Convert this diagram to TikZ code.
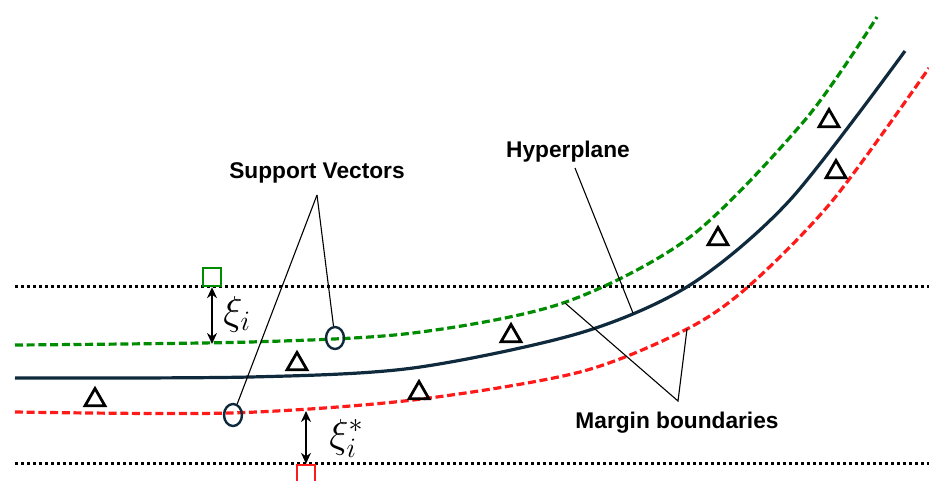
\documentclass[tikz,border=0pt]{standalone}
\usepackage{fontspec}
\setmainfont{Liberation Sans}
\usetikzlibrary{shapes.geometric, arrows.meta, positioning, calc}
\definecolor{svmNavy}{HTML}{0F2A3C}
\definecolor{svmGreen}{HTML}{008C00}
\definecolor{svmRed}{HTML}{FF1A1A}

\begin{document}
\begin{tikzpicture}[x=1pt, y=-1pt, >={Stealth[length=11pt, width=10pt]},
    lbl/.style={font=\fontsize{22.7}{27}\selectfont\bfseries, inner sep=0pt},
    bound/.style={line width=3.2pt, dash pattern=on 8pt off 3.7pt},
    level/.style={line width=3pt, dash pattern=on 3pt off 3pt},
    svdot/.style={ellipse, draw=svmNavy, line width=2.4pt, minimum width=18pt,
      minimum height=22pt, inner sep=0pt},
    tri/.style={regular polygon, regular polygon sides=3, draw, line width=2.8pt,
      minimum size=23pt, inner sep=0pt},
    slack/.style={rectangle, draw, line width=2.4pt, minimum size=18pt, inner sep=0pt},
    xilbl/.style={font=\huge, scale=1.95, anchor=base west, inner sep=0pt},
    lead/.style={line width=1.1pt}]
  \useasboundingbox (0,0) rectangle (929,480);

  % slack levels
  \draw[level] (15,286) -- (929,286);
  \draw[level] (15,463) -- (929,463);

  % margin boundaries and hyperplane
  \draw[bound, svmGreen] plot[smooth] coordinates
    {(15,345) (250,342) (413,333) (563,303) (690,237) (805,120) (877,17)};
  \draw[bound, svmRed] plot[smooth] coordinates
    {(15,412) (230,413) (413,400) (580,372) (687,329) (750,285) (833,200) (929,68)};
  \draw[svmNavy, line width=3.2pt] plot[smooth] coordinates
    {(15,378) (250,377) (413,368) (580,333) (690,285) (790,200) (905,51)};

  % data points
  \foreach \px/\py in {95/400, 297/364, 511/336, 419/393, 718/239, 829/121, 836/172}
    \node[tri] at (\px,\py) {};

  % support vectors
  \node[svdot] (svg) at (335,338) {};
  \node[svdot] (svr) at (233,415) {};

  % slack points and distances
  \node[slack, draw=svmGreen] (sqg) at (212,277) {};
  \node[slack, draw=svmRed] (sqr) at (306,474) {};
  \coordinate (gfoot) at (212,344);
  \coordinate (rfoot) at (306,411);
  \draw[<->, line width=1.5pt] (sqg.south) -- (gfoot);
  \draw[<->, line width=1.5pt] (rfoot) -- (sqr.north);
  \node[xilbl] (xig) at (223,324) {$\xi_i$};
  \node[xilbl] (xir) at (329,447) {$\xi_i^*$};

  % labels
  \node[lbl] (svlbl) at (317,173) {Support Vectors};
  \node[lbl] (hplbl) at (568,152) {Hyperplane};
  \node[lbl] (mblbl) at (677,423) {Margin boundaries};
  \coordinate (svtip) at (317,195);
  \coordinate (hptip) at (575,168);
  \coordinate (hpend) at (633,313);
  \coordinate (mbtip) at (678,401);
  \coordinate (mbg) at (565,303);
  \coordinate (mbr) at (687,329);
  \draw[lead] (svtip) -- (svg);
  \draw[lead] (svtip) -- (svr);
  \draw[lead] (hptip) -- (hpend);
  \draw[lead] (mbg) -- (mbtip) -- (mbr);
\end{tikzpicture}
\end{document}
